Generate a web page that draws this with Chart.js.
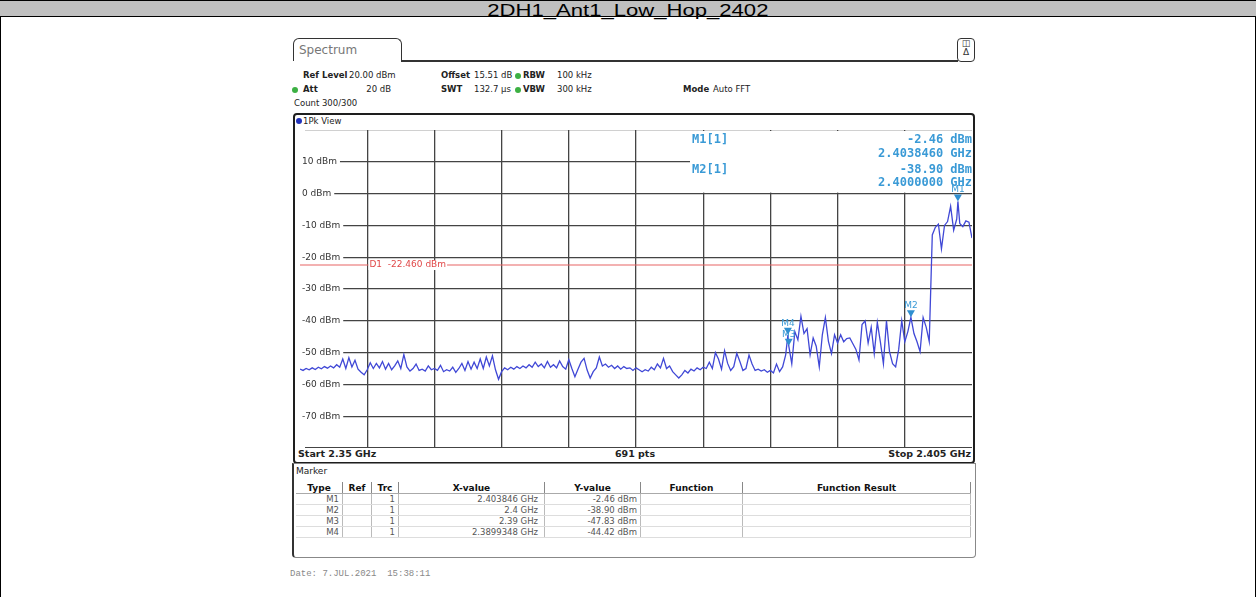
<!DOCTYPE html>
<html>
<head>
<meta charset="utf-8">
<script src="https://cdn.jsdelivr.net/npm/chart.js@4.4.1/dist/chart.umd.min.js"></script>
<style>
  html, body { margin: 0; padding: 0; background: #fff; }
  #page { position: relative; width: 1257px; height: 597px; overflow: hidden; font-family: 'DejaVu Sans', sans-serif; }
  .t { position: absolute; white-space: nowrap; font-size: 8.5px; line-height: 12px; color: #222; }
  .b { font-weight: bold; }
  .dot { position: absolute; width: 6px; height: 6px; border-radius: 50%; background: #3cb043; }
  #frameL { position: absolute; left: 0; top: 0; width: 1px; height: 597px; background: #000; }
  #frameR { position: absolute; left: 1255px; top: 0; width: 1px; height: 597px; background: #000; }
  #titlebar { position: absolute; left: 0; top: 0; width: 1256px; height: 17px; background: #c0c0c0;
    border-top: 1px solid #000; border-bottom: 1px solid #000; box-sizing: border-box; text-align: center; }
  #titlebar span { display: inline-block; transform: scaleX(1.38); font-family: 'Liberation Sans', Arial, sans-serif;
    font-size: 16px; line-height: 15px; color: #000; }
  #tab { position: absolute; left: 293px; top: 38px; width: 109px; height: 23px; border: 1.5px solid #333;
    border-bottom: none; border-radius: 6px 6px 0 0; box-sizing: border-box; background: #fff; }
  #tabline { position: absolute; left: 401px; top: 60px; width: 557px; height: 1.5px; background: #333; }
  #icon { position: absolute; left: 957px; top: 38px; width: 18px; height: 24px; border: 1.5px solid #333;
    border-radius: 4px; box-sizing: border-box; font-size: 9px; text-align: center; line-height: 9px; color: #333; }
  #diag { position: absolute; left: 293px; top: 113px; width: 682px; height: 351px; border: 2px solid #1e1e1e;
    border-radius: 4px; box-sizing: border-box; }
  #tbl { position: absolute; left: 292px; top: 463px; width: 684px; height: 95px; border: 1px solid #888;
    border-left: 2px solid #333; border-radius: 0 0 4px 4px; box-sizing: border-box; }
  #plot { position: absolute; left: 296px; top: 130px; }
  table { position: absolute; left: 296px; top: 482px; border-collapse: collapse; font-size: 8.5px; }
  td, th { height: 10px; line-height: 10px; padding: 0 3px; border-right: 1px solid #bbb; border-bottom: 1px solid #ddd; }
  th { font-weight: bold; color: #111; font-size: 9px; height: 11px; border-right: 1px solid #888; border-bottom: 1px solid #aaa; }
  td { text-align: right; color: #555; }
  #date { position: absolute; left: 290px; top: 569px; font-family: 'Liberation Mono', monospace; font-size: 9px; color: #888; }
</style>
</head>
<body>
<div id="page">
  <div id="frameL"></div><div id="frameR"></div>
  <div id="titlebar"><span>2DH1_Ant1_Low_Hop_2402</span></div>

  <div id="tab"></div>
  <div class="t" style="left:299px;top:43px;font-size:12px;line-height:14px;color:#777;">Spectrum</div>
  <div id="tabline"></div>
  <div id="icon">&#9707;<br>&#916;</div>

  <!-- setting lines -->
  <div class="t b" style="left:303px;top:69px;">Ref Level</div>
  <div class="t" style="left:349px;top:69px;">20.00 dBm</div>
  <div class="t b" style="left:441px;top:69px;">Offset</div>
  <div class="t" style="left:474px;top:69px;">15.51 dB</div>
  <div class="dot" style="left:515px;top:73px;"></div>
  <div class="t b" style="left:523px;top:69px;">RBW</div>
  <div class="t" style="left:557px;top:69px;">100 kHz</div>

  <div class="dot" style="left:292px;top:87px;"></div>
  <div class="t b" style="left:303px;top:83px;">Att</div>
  <div class="t" style="left:365px;top:83px;width:26px;text-align:right;">20 dB</div>
  <div class="t b" style="left:441px;top:83px;">SWT</div>
  <div class="t" style="left:474px;top:83px;">132.7 µs</div>
  <div class="dot" style="left:515px;top:87px;"></div>
  <div class="t b" style="left:523px;top:83px;">VBW</div>
  <div class="t" style="left:557px;top:83px;">300 kHz</div>
  <div class="t b" style="left:683px;top:83px;">Mode</div>
  <div class="t" style="left:713px;top:83px;">Auto FFT</div>

  <div class="t" style="left:294px;top:97px;">Count 300/300</div>

  <div id="diag"></div>
  <div class="dot" style="left:296px;top:118px;background:#2233bb;"></div>
  <div class="t" style="left:303px;top:115px;">1Pk View</div>

  <div id="plot"><canvas id="spec" width="676" height="318"></canvas></div>

  <div class="t b" style="left:298px;top:448px;font-size:9.5px;">Start 2.35 GHz</div>
  <div class="t b" style="left:585px;top:448px;width:100px;text-align:center;font-size:9.5px;">691 pts</div>
  <div class="t b" style="left:870px;top:448px;width:101px;text-align:right;font-size:9.5px;">Stop 2.405 GHz</div>

  <div id="tbl"></div>
  <div class="t" style="left:296px;top:465px;font-size:9px;">Marker</div>
  <table id="mtable"></table>

  <div id="date">Date: 7.JUL.2021&nbsp;&nbsp;15:38:11</div>
</div>

<script>
// sweep trace (MHz / dBm)
const traceFreqMHz = [
  2350, 2350.25, 2350.5, 2350.75,
  2351, 2351.25, 2351.5, 2351.75,
  2352, 2352.25, 2352.5, 2352.75,
  2353, 2353.25, 2353.5, 2353.75,
  2354, 2354.25, 2354.5, 2354.75,
  2355, 2355.25, 2355.5, 2355.75,
  2356, 2356.25, 2356.5, 2356.75,
  2357, 2357.25, 2357.5, 2357.75,
  2358, 2358.25, 2358.5, 2358.75,
  2359, 2359.25, 2359.5, 2359.75,
  2360, 2360.25, 2360.5, 2360.75,
  2361, 2361.25, 2361.5, 2361.75,
  2362, 2362.25, 2362.5, 2362.75,
  2363, 2363.25, 2363.5, 2363.75,
  2364, 2364.25, 2364.5, 2364.75,
  2365, 2365.25, 2365.5, 2365.75,
  2366, 2366.25, 2366.5, 2366.75,
  2367, 2367.25, 2367.5, 2367.75,
  2368, 2368.25, 2368.5, 2368.75,
  2369, 2369.25, 2369.5, 2369.75,
  2370, 2370.25, 2370.5, 2370.75,
  2371, 2371.25, 2371.5, 2371.75,
  2372, 2372.25, 2372.5, 2372.75,
  2373, 2373.25, 2373.5, 2373.75,
  2374, 2374.25, 2374.5, 2374.75,
  2375, 2375.25, 2375.5, 2375.75,
  2376, 2376.25, 2376.5, 2376.75,
  2377, 2377.25, 2377.5, 2377.75,
  2378, 2378.25, 2378.5, 2378.75,
  2379, 2379.25, 2379.5, 2379.75,
  2380, 2380.25, 2380.5, 2380.75,
  2381, 2381.25, 2381.5, 2381.75,
  2382, 2382.25, 2382.5, 2382.75,
  2383, 2383.25, 2383.5, 2383.75,
  2384, 2384.25, 2384.5, 2384.75,
  2385, 2385.25, 2385.5, 2385.75,
  2386, 2386.25, 2386.5, 2386.75,
  2387, 2387.25, 2387.5, 2387.75,
  2388, 2388.25, 2388.5, 2388.75,
  2389, 2389.25, 2389.5, 2389.75, 2389.9348,
  2390, 2390.25, 2390.5, 2390.75,
  2391, 2391.25, 2391.5, 2391.75,
  2392, 2392.25, 2392.5, 2392.75,
  2393, 2393.25, 2393.5, 2393.75,
  2394, 2394.25, 2394.5, 2394.75,
  2395, 2395.25, 2395.5, 2395.75,
  2396, 2396.25, 2396.5, 2396.75,
  2397, 2397.25, 2397.5, 2397.75,
  2398, 2398.25, 2398.5, 2398.75,
  2399, 2399.25, 2399.5, 2399.75,
  2400, 2400.25, 2400.5, 2400.75,
  2401, 2401.25, 2401.5, 2401.75,
  2402, 2402.25, 2402.5, 2402.75,
  2403, 2403.25, 2403.5, 2403.75, 2403.846,
  2404, 2404.25, 2404.5, 2404.75,
  2405
];
const traceLevelDbm = [
  -55.2, -55.6, -55.0, -55.4,
  -54.8, -55.3, -54.6, -55.1,
  -54.4, -54.9, -54.2, -54.8,
  -53.8, -54.6, -52.0, -55.0,
  -51.6, -54.5, -52.4, -55.2,
  -56.2, -57.0, -55.4, -53.2,
  -55.0, -53.4, -54.8, -52.8,
  -55.2, -53.4, -55.4, -54.2,
  -52.6, -55.0, -50.6, -54.5,
  -55.8, -55.0, -53.6, -55.6,
  -55.2, -55.8, -54.2, -55.4,
  -55.0, -55.6, -54.0, -56.0,
  -55.4, -55.8, -54.6, -56.2,
  -55.0, -53.4, -55.6, -52.8,
  -55.2, -53.0, -55.0, -52.0,
  -55.0, -51.4, -54.2, -51.0,
  -55.4, -58.4, -56.0, -54.8,
  -55.4, -54.6, -55.2, -54.4,
  -55.0, -54.2, -54.8, -53.8,
  -54.6, -53.0, -54.4, -53.6,
  -54.8, -52.8, -54.6, -53.8,
  -54.8, -52.6, -54.4, -55.2,
  -52.2, -55.0, -57.6, -55.2,
  -53.0, -51.8, -55.5, -58.0,
  -56.0, -54.8, -51.4, -54.2,
  -53.6, -54.6, -54.0, -55.0,
  -54.2, -55.2, -54.4, -55.0,
  -54.8, -55.6, -54.8, -55.4,
  -56.0, -55.4, -55.8, -54.6,
  -55.4, -53.6, -54.8, -51.8,
  -55.0, -54.2, -56.0, -57.0,
  -58.0, -57.0, -55.6, -56.4,
  -55.2, -55.8, -54.8, -55.4,
  -54.6, -55.0, -53.0, -55.0,
  -50.0, -52.0, -55.2, -49.4,
  -53.4, -55.6, -54.4, -50.2,
  -52.8, -55.6, -55.0, -50.8,
  -53.6, -55.6, -55.2, -55.8,
  -55.4, -56.2, -55.6, -56.4,
  -53.6, -56.0, -54.5, -50.7, -44.42,
  -47.83, -53.5, -43.4, -46.0,
  -38.6, -44.0, -42.5, -50.7,
  -45.4, -48.0, -54.5, -44.4,
  -39.0, -46.5, -50.3, -44.4,
  -47.0, -44.4, -46.6, -45.6,
  -45.4, -47.2, -49.0, -52.3,
  -41.2, -40.0, -47.0, -42.0,
  -50.3, -40.5, -46.6, -53.5,
  -40.0, -49.7, -53.5, -54.5,
  -49.0, -40.0, -46.6, -43.4,
  -38.90, -44.0, -46.6, -49.7,
  -39.0, -42.0, -46.5, -13.0,
  -10.6, -9.6, -17.4, -10.0,
  -8.8, -4.0, -11.5, -8.0, -2.46,
  -9.4, -10.4, -8.6, -9.0,
  -14.0
];

// markers and display line
const markerNames = ['M1', 'M2', 'M3', 'M4'];
const markerFreqMHz = [2403.846, 2400.0, 2390.0, 2389.9348];
const markerLevelDbm = [-2.46, -38.90, -47.83, -44.42];
const markerXText = ['2.403846 GHz', '2.4 GHz', '2.39 GHz', '2.3899348 GHz'];
const markerYText = ['-2.46 dBm', '-38.90 dBm', '-47.83 dBm', '-44.42 dBm'];
const d1LevelDbm = -22.46;

// axis
const spanMHz = [2350, 2405];
const yTickDbm = [20, 10, 0, -10, -20, -30, -40, -50, -60, -70, -80];
const yTickLabels = ['', '10 dBm', '0 dBm', '-10 dBm', '-20 dBm', '-30 dBm', '-40 dBm', '-50 dBm', '-60 dBm', '-70 dBm', ''];

const tableHead = ['Type', 'Ref', 'Trc', 'X-value', 'Y-value', 'Function', 'Function Result'];
const colWidths = [47, 29, 27, 146, 96, 102, 228];

// build the marker table
const tbl = document.getElementById('mtable');
let html = '<tr>' + tableHead.map((h, i) => `<th style="width:${colWidths[i] - 7}px">${h}</th>`).join('') + '</tr>';
markerNames.forEach((m, i) => {
  html += `<tr><td>${m}</td><td></td><td>1</td><td style="padding-right:6px">${markerXText[i]}</td><td>${markerYText[i]}</td><td></td><td></td></tr>`;
});
tbl.innerHTML = html;

const BLUE_TXT = '#3a9ad6';
const GRID = '#444';

const overlayPlugin = {
  id: 'overlay',
  beforeDatasetsDraw(chart) {
    const { ctx, chartArea, scales: { x, y } } = chart;
    // blank area for the marker readout
    const left = chartArea.left + 390;
    const bottom = y.getPixelForValue(0) - 1;
    ctx.save();
    ctx.fillStyle = '#fff';
    ctx.fillRect(left, chartArea.top + 1, chartArea.right - left, bottom - chartArea.top - 1);
    ctx.fillStyle = BLUE_TXT;
    ctx.font = 'bold 12px "DejaVu Sans Mono"';
    ctx.textBaseline = 'middle';
    ctx.textAlign = 'left';
    ctx.fillText('M1[1]', left + 2, chartArea.top + 10);
    ctx.fillText('M2[1]', left + 2, chartArea.top + 40);
    ctx.textAlign = 'right';
    const r = chartArea.right;
    ctx.fillText('-2.46 dBm', r, chartArea.top + 10);
    ctx.fillText('2.4038460 GHz', r, chartArea.top + 24);
    ctx.fillText('-38.90 dBm', r, chartArea.top + 40);
    ctx.fillText('2.4000000 GHz', r, chartArea.top + 53);
    ctx.restore();
  },
  afterDatasetsDraw(chart) {
    const { ctx, scales: { x, y } } = chart;
    ctx.save();
    // D1 label
    const dy = y.getPixelForValue(d1LevelDbm);
    const dx = x.getPixelForValue(2355.6);
    ctx.font = '9px "DejaVu Sans"';
    const txt = 'D1  -22.460 dBm';
    const w = ctx.measureText(txt).width;
    ctx.fillStyle = '#fff';
    ctx.fillRect(dx, dy - 5, w + 2, 10);
    ctx.fillStyle = '#e04848';
    ctx.textBaseline = 'middle';
    ctx.fillText(txt, dx + 1, dy);
    // marker triangles
    ctx.textAlign = 'center';
    ctx.textBaseline = 'alphabetic';
    markerNames.forEach((m, i) => {
      const px = x.getPixelForValue(markerFreqMHz[i]);
      const py = y.getPixelForValue(markerLevelDbm[i]);
      ctx.fillStyle = '#2f8fd0';
      ctx.beginPath();
      ctx.moveTo(px, py);
      ctx.lineTo(px - 4, py - 7);
      ctx.lineTo(px + 4, py - 7);
      ctx.closePath();
      ctx.fill();
      ctx.fillStyle = BLUE_TXT;
      ctx.fillText(m, px, py - 9);
    });
    ctx.restore();
  }
};

new Chart(document.getElementById('spec'), {
  type: 'line',
  data: {
    datasets: [
      {
        data: traceFreqMHz.map((f, i) => ({ x: f, y: traceLevelDbm[i] })),
        borderColor: '#4048d6',
        borderWidth: 1.3,
        pointRadius: 0,
        tension: 0
      },
      {
        data: spanMHz.map(f => ({ x: f, y: d1LevelDbm })),
        borderColor: '#e86464',
        borderWidth: 1.2,
        pointRadius: 0
      }
    ]
  },
  options: {
    responsive: false,
    devicePixelRatio: 1,
    animation: false,
    layout: { padding: 0, autoPadding: false },
    plugins: { legend: { display: false }, tooltip: { enabled: false } },
    scales: {
      x: {
        type: 'linear',
        min: spanMHz[0],
        max: spanMHz[1],
        ticks: { display: false, stepSize: 5.5 },
        // outer verticals are covered by the panel frame
        grid: {
          color: c => (c.tick && spanMHz.includes(c.tick.value)) ? 'rgba(0,0,0,0)' : GRID,
          lineWidth: 1.3,
          drawTicks: false
        },
        border: { display: false }
      },
      y: {
        min: -80,
        max: 20,
        // keep the plot edge flush with the canvas
        afterFit: s => { s.paddingTop = 0; s.paddingBottom = 0; },
        ticks: {
          stepSize: 10,
          mirror: true,
          padding: 2,
          color: '#333',
          font: { family: 'DejaVu Sans', size: 9 },
          showLabelBackdrop: true,
          backdropColor: '#fff',
          backdropPadding: { top: 1, bottom: 1, left: 3, right: 3 },
          callback: v => yTickLabels[yTickDbm.indexOf(v)] || ''
        },
        grid: { color: GRID, lineWidth: 1.3, drawTicks: false },
        border: { display: false }
      }
    }
  },
  plugins: [overlayPlugin]
});
</script>
</body>
</html>
